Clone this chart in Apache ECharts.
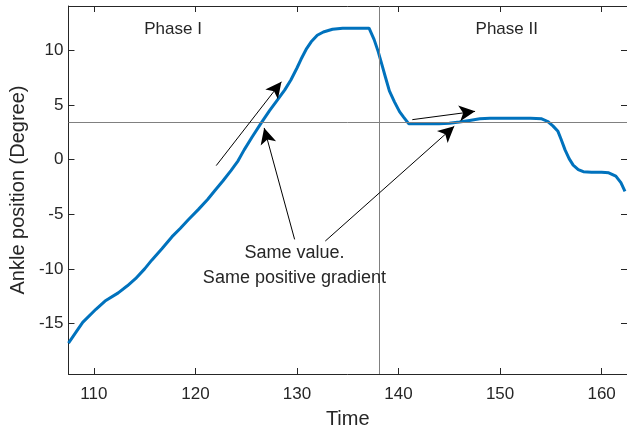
<!DOCTYPE html>
<html>
<head>
<meta charset="utf-8">
<script src="https://cdn.jsdelivr.net/npm/echarts@6/dist/echarts.min.js"></script>
<style>
html,body{margin:0;padding:0;background:#fff;}
#chart{width:627px;height:434px;}
</style>
</head>
<body>
<div id="chart"></div>
<script>
// ---- data ----
const timeValues = [107.5,108.9,110.2,111.1,112.4,113.3,114.1,115.0,115.7,116.7,117.7,118.5,119.3,120.3,121.2,121.9,122.7,123.5,124.2,124.8,125.6,126.5,127.3,128.1,128.8,129.4,130.0,130.4,130.9,131.4,132.0,132.6,133.5,134.5,135.5,136.5,137.1,137.6,138.0,138.4,138.7,139.1,139.6,140.1,140.5,141.0,142.0,143.0,144.0,145.0,146.0,147.0,148.0,149.0,150.0,151.0,152.0,153.0,154.1,154.7,155.2,155.7,156.0,156.4,156.8,157.2,157.7,158.2,159.0,160.0,160.7,161.4,161.9,162.3];
const anklePosition = [-16.8,-14.9,-13.7,-12.95,-12.2,-11.55,-10.9,-10.0,-9.2,-8.15,-7.05,-6.3,-5.5,-4.55,-3.65,-2.85,-1.95,-1.0,-0.1,0.9,2.1,3.4,4.5,5.5,6.4,7.3,8.4,9.2,10.1,10.8,11.4,11.7,11.95,12.05,12.05,12.05,12.05,11.0,9.9,8.6,7.6,6.3,5.3,4.4,3.9,3.3,3.3,3.3,3.3,3.35,3.45,3.6,3.75,3.8,3.8,3.8,3.8,3.8,3.75,3.5,3.1,2.6,1.9,0.9,0.1,-0.5,-0.9,-1.1,-1.15,-1.15,-1.2,-1.5,-2.1,-2.9];
const xTicks = [110,120,130,140,150,160];
const yTicks = [-15,-10,-5,0,5,10];
const xRange = [107.5, 162.5];
const yRange = [-19.63, 14.08];
const refLevel = 3.4;      // horizontal reference line
const refTime = 138.1;     // vertical phase boundary
// arrows: [tailTime, tailValue, tipTime, tipValue]
const arrows = [
  [122.05, -0.54, 128.47, 7.14],
  [129.77, -7.3, 126.77, 2.91],
  [132.79, -7.45, 145.49, 3.06],
  [141.36, 3.67, 147.54, 4.43]
];
// text labels: [time, value, text]
const phaseLabels = [
  [117.8, 11.96, 'Phase I'],
  [150.66, 11.96, 'Phase II']
];
const noteLabels = [
  [129.75, -9.65, 'Same value.\nSame positive gradient']
];

// ---- chart ----
const FONT = '"Liberation Sans", Arial, Helvetica, sans-serif';
const AX = '#262626';
const chart = echarts.init(document.getElementById('chart'), null, {renderer:'canvas'});

const series = [];
series.push({
  type:'line',
  data: timeValues.map((t,i)=>[t, anklePosition[i]]),
  showSymbol:false,
  smooth:false,
  lineStyle:{color:'#0072BD', width:3},
  z:3,
  animation:false
});
series.push({
  type:'line', data:[], animation:false, silent:true,
  markLine:{
    silent:true, symbol:'none', animation:false,
    label:{show:false},
    lineStyle:{color:'#808080', width:1, type:'solid'},
    data:[{yAxis:refLevel},{xAxis:refTime}]
  },
  markPoint:{
    silent:true, animation:false,
    symbol:'circle', symbolSize:0,
    label:{show:true, position:'inside', color:AX, fontFamily:FONT, fontSize:17, align:'center',
      formatter:p=>p.name},
    data: phaseLabels.map(l=>({name:l[2], coord:[l[0],l[1]], value:0}))
  },
  z:2
});
series.push({
  type:'line', data:[], animation:false, silent:true,
  markLine:{
    silent:true, animation:false,
    symbol:['none','arrow'], symbolSize:[12,16],
    label:{show:false},
    lineStyle:{color:'#000', width:1, type:'solid'},
    data: arrows.map(a=>[{coord:[a[0],a[1]]},{coord:[a[2],a[3]]}])
  },
  markPoint:{
    silent:true, animation:false,
    symbol:'circle', symbolSize:0,
    label:{show:true, position:'inside', color:AX, fontFamily:FONT, fontSize:18, lineHeight:25, align:'center',
      formatter:p=>p.name},
    data: noteLabels.map(l=>({name:l[2], coord:[l[0],l[1]], value:0}))
  },
  z:4
});

const xBase = {
  type:'value', min:xRange[0], max:xRange[1],
  splitLine:{show:false},
  axisLine:{show:true, onZero:false, lineStyle:{color:AX, width:1}},
  axisTick:{show:true, inside:true, length:6, customValues:xTicks, lineStyle:{color:AX}},
};
const yBase = {
  type:'value', min:yRange[0], max:yRange[1],
  splitLine:{show:false},
  axisLine:{show:true, onZero:false, lineStyle:{color:AX, width:1}},
  axisTick:{show:true, inside:true, length:6, customValues:yTicks, lineStyle:{color:AX}},
};

chart.setOption({
  animation:false,
  backgroundColor:'#fff',
  grid:{left:66, top:6, width:563, height:369, containLabel:false},
  xAxis:[
    Object.assign({}, xBase, {
      position:'bottom',
      name:'Time', nameLocation:'middle', nameGap:35,
      nameTextStyle:{color:AX, fontFamily:FONT, fontSize:20},
      axisLabel:{show:true, customValues:xTicks, margin:12, color:AX, fontFamily:FONT, fontSize:17}
    }),
    Object.assign({}, xBase, {position:'top', axisLabel:{show:false}})
  ],
  yAxis:[
    Object.assign({}, yBase, {
      position:'left',
      name:'Ankle position (Degree)', nameLocation:'middle', nameGap:38,
      nameTextStyle:{color:AX, fontFamily:FONT, fontSize:20},
      axisLabel:{show:true, customValues:yTicks, margin:5, color:AX, fontFamily:FONT, fontSize:17}
    }),
    Object.assign({}, yBase, {position:'right', axisLabel:{show:false}})
  ],
  series: series
});
</script>
</body>
</html>
